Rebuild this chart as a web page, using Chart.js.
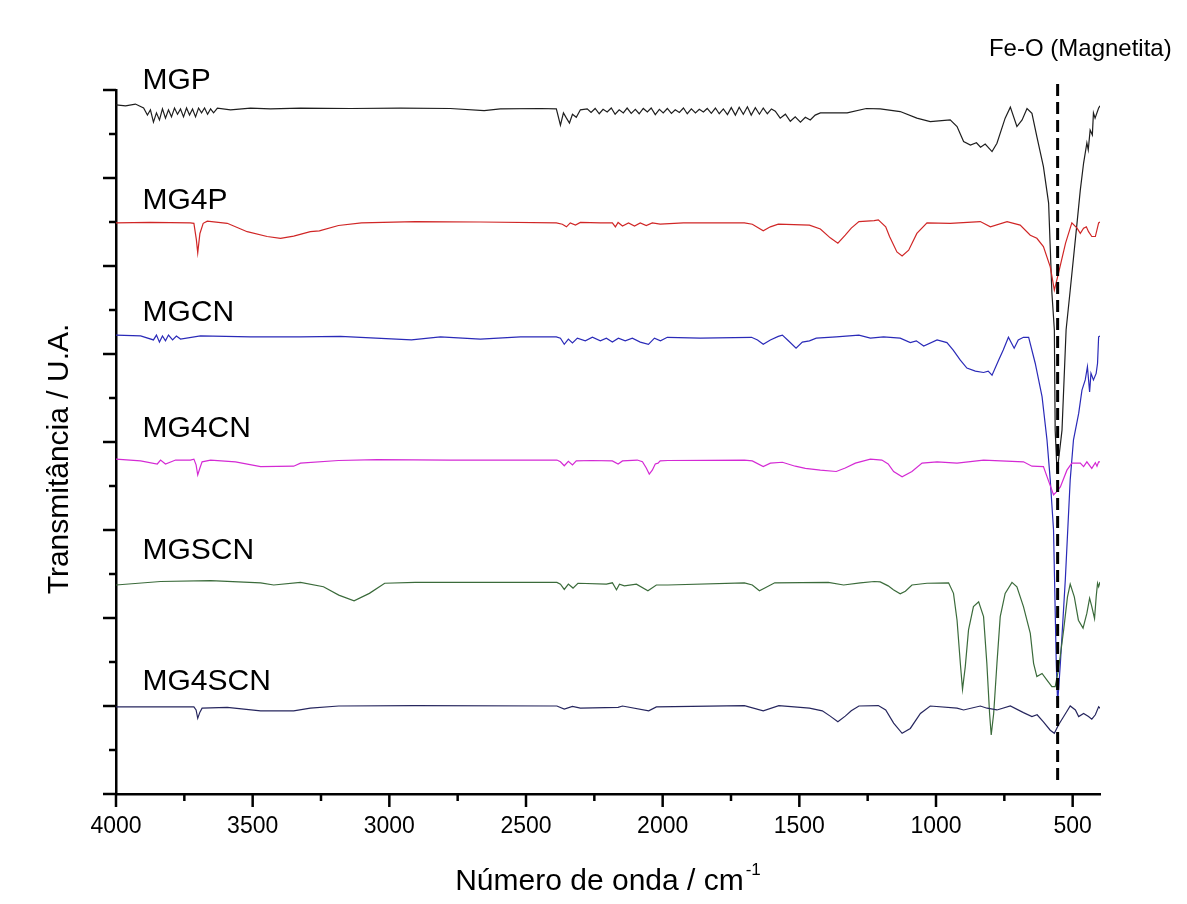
<!DOCTYPE html>
<html>
<head>
<meta charset="utf-8">
<script src="https://cdn.jsdelivr.net/npm/chart.js@4.4.1/dist/chart.umd.min.js"></script>
<style>
html,body{margin:0;padding:0;background:#fff;}
#wrap{width:1187px;height:904px;position:relative;}
</style>
</head>
<body>
<div id="wrap"><canvas id="c" width="1187" height="904"></canvas></div>
<script>
// ---------- data ----------
const xTickValues = [4000, 3500, 3000, 2500, 2000, 1500, 1000, 500];
const xMinorTicks = [3750, 3250, 2750, 2250, 1750, 1250, 750];
const yMajorTicks = [0, 20, 40, 60, 80, 100, 120, 140, 160];
const yMinorTicks = [10, 30, 50, 70, 90, 110, 130, 150];

const seriesNames  = ['MGP', 'MG4P', 'MGCN', 'MG4CN', 'MGSCN', 'MG4SCN'];
const seriesColors = ['#1e1e1e', '#d02626', '#2a2ab8', '#d42ad4', '#3b6b3b', '#26265e'];
const labelWavenumber = 3903;
const labelLevels = [160.2, 133.0, 107.5, 81.1, 53.4, 23.6];

const feoText = 'Fe-O (Magnetita)';
const feoWavenumber = 555;
const feoRange = [3.2, 162.7];
const feoTextPos = [472, 167.7];

// [wavenumber, transmittance (U.A.)]
const mgp = [[4000,156.6],[3965,156.4],[3929,156.8],[3899,155.9],[3885,154.3],[3874,155.5],[3863,152.7],[3852,154.8],[3841,153.2],[3830,155.7],[3819,153.6],[3808,155.5],[3797,153.9],[3786,155.9],[3775,154.5],[3764,155.7],[3753,153.9],[3742,155.9],[3731,154.3],[3720,155.7],[3709,153.9],[3698,155.9],[3687,154.8],[3676,155.9],[3665,154.5],[3654,155.7],[3643,154.8],[3629,155.9],[3581,155.5],[3508,155.9],[3435,155.7],[3325,155.9],[3142,155.8],[2959,155.9],[2777,155.8],[2653,155.3],[2594,155.7],[2447,155.8],[2389,155.7],[2374,152.0],[2363,154.8],[2352,153.6],[2341,152.5],[2330,154.5],[2316,153.8],[2301,155.5],[2276,155.7],[2262,154.9],[2247,155.8],[2232,154.6],[2218,155.6],[2203,155.0],[2188,155.9],[2174,154.5],[2159,155.5],[2144,154.8],[2130,155.9],[2115,154.7],[2100,155.6],[2086,154.6],[2071,155.8],[2056,155.0],[2042,155.9],[2027,154.4],[2012,155.6],[1998,154.8],[1983,155.8],[1968,154.7],[1954,155.5],[1939,154.9],[1924,155.9],[1910,154.6],[1895,155.7],[1880,154.8],[1866,155.6],[1851,155.0],[1837,155.8],[1822,154.7],[1807,155.9],[1793,154.6],[1778,155.7],[1763,154.4],[1749,156.0],[1734,154.3],[1720,156.1],[1705,154.5],[1690,156.2],[1676,154.3],[1661,156.0],[1646,154.5],[1632,155.9],[1617,154.6],[1602,155.7],[1588,155.2],[1570,153.6],[1551,154.5],[1533,152.9],[1515,153.9],[1496,152.7],[1478,153.8],[1460,153.2],[1442,154.3],[1423,154.8],[1387,154.8],[1325,154.8],[1255,155.8],[1204,155.7],[1131,155.1],[1070,153.6],[1021,152.8],[948,153.2],[923,151.7],[899,148.3],[874,147.5],[852,148.0],[837,147.0],[820,147.7],[795,146.0],[777,147.9],[747,153.6],[728,156.1],[704,151.7],[685,153.2],[667,155.8],[649,154.7],[631,149.4],[607,142.6],[588,134.3],[576,113.9],[567,105.5],[564,82.7],[557,73.0],[539,82.7],[524,105.5],[509,114.5],[484,129.8],[472,137.3],[460,143.4],[448,148.0],[443,146.4],[436,150.9],[428,149.8],[424,154.8],[418,153.6],[405,155.9],[400,156.4]];

const mg4p = [[4000,129.8],[3874,129.9],[3728,129.8],[3715,129.7],[3706,126.0],[3701,123.0],[3693,127.4],[3681,129.7],[3666,130.2],[3593,129.7],[3520,127.8],[3447,126.7],[3398,126.3],[3350,126.8],[3289,127.8],[3256,128.0],[3186,129.2],[3102,129.8],[2905,130.1],[2667,130.0],[2389,129.8],[2367,129.5],[2352,128.9],[2338,129.8],[2319,129.3],[2301,129.9],[2228,129.8],[2184,129.8],[2173,128.9],[2163,129.9],[2147,129.1],[2125,129.8],[2103,129.1],[2082,129.8],[2060,129.2],[2038,129.8],[2009,129.5],[1924,129.8],[1701,129.8],[1672,129.5],[1632,128.0],[1606,128.9],[1577,129.5],[1463,129.3],[1423,128.4],[1387,126.4],[1359,125.2],[1332,127.0],[1310,128.6],[1282,130.1],[1226,130.3],[1211,130.5],[1184,128.9],[1170,126.7],[1143,123.2],[1124,122.3],[1100,123.6],[1070,127.4],[1033,129.8],[948,129.7],[838,130.1],[801,128.9],[740,130.1],[692,129.3],[655,127.0],[631,126.3],[607,124.4],[582,119.8],[567,114.5],[552,118.3],[526,125.2],[503,129.8],[484,128.6],[472,127.4],[460,128.6],[450,128.9],[442,127.8],[430,126.7],[417,126.7],[405,129.8],[400,130.0]];

const mgcn = [[4000,104.3],[3910,104.1],[3863,103.2],[3852,104.3],[3841,102.7],[3830,104.1],[3819,103.0],[3808,104.3],[3793,103.2],[3779,104.1],[3764,103.4],[3691,104.1],[3508,103.9],[3325,103.9],[3179,104.0],[3142,103.9],[2919,103.2],[2813,103.9],[2667,103.4],[2520,103.9],[2389,103.9],[2374,103.6],[2360,102.2],[2345,103.4],[2330,102.5],[2312,103.6],[2283,103.0],[2257,103.8],[2228,103.0],[2206,103.6],[2184,102.7],[2162,103.6],[2137,103.0],[2111,103.6],[2082,102.7],[2052,102.2],[2030,103.6],[2008,103.0],[1983,103.8],[1862,103.6],[1675,103.8],[1653,103.2],[1632,102.2],[1606,103.2],[1577,104.0],[1562,104.3],[1540,103.0],[1512,101.3],[1489,102.7],[1463,103.0],[1438,103.6],[1365,103.9],[1282,104.3],[1240,103.6],[1192,103.9],[1131,103.6],[1094,102.6],[1072,103.0],[1045,101.8],[996,103.2],[960,102.6],[937,100.9],[911,98.6],[887,96.8],[856,96.1],[826,95.8],[809,96.1],[795,95.2],[771,98.6],[754,100.9],[735,103.8],[714,101.3],[699,103.2],[680,103.8],[661,103.8],[637,97.9],[612,90.3],[594,80.5],[582,71.4],[570,60.0],[560,29.7],[555,20.6],[545,29.7],[527,48.6],[509,71.4],[497,80.5],[478,86.5],[466,91.8],[454,94.1],[446,97.1],[438,91.4],[433,95.6],[424,94.1],[414,95.6],[409,97.9],[405,103.9],[400,104.1]];

const mg4cn = [[4000,76.1],[3910,75.7],[3849,75.0],[3837,75.9],[3819,75.0],[3782,75.9],[3728,75.9],[3715,76.1],[3707,74.8],[3701,72.5],[3693,74.1],[3685,75.5],[3654,75.9],[3563,75.5],[3471,74.4],[3350,74.5],[3325,75.2],[3186,75.8],[3045,76.0],[2777,75.9],[2387,75.9],[2374,75.5],[2360,74.6],[2345,75.6],[2330,74.8],[2316,75.7],[2262,75.8],[2184,75.7],[2163,75.0],[2147,75.7],[2093,75.9],[2074,75.5],[2060,74.1],[2049,72.7],[2038,73.6],[2027,75.0],[2017,75.2],[2009,75.7],[1981,75.8],[1701,75.9],[1672,75.7],[1632,74.4],[1606,75.2],[1562,75.4],[1515,74.5],[1478,74.0],[1423,73.6],[1365,73.3],[1332,74.1],[1295,75.2],[1240,76.1],[1198,75.9],[1175,75.0],[1155,73.3],[1124,72.1],[1088,73.3],[1051,75.2],[996,75.5],[923,75.2],[826,75.9],[680,75.5],[649,74.5],[607,74.4],[585,70.6],[570,68.0],[560,68.6],[545,69.8],[521,73.6],[503,75.2],[472,75.2],[460,74.4],[448,75.5],[430,74.0],[417,75.3],[411,74.5],[405,75.5],[400,75.5]];

const mgscn = [[4000,47.5],[3837,48.3],[3654,48.5],[3471,48.0],[3423,47.5],[3325,48.1],[3241,47.1],[3185,45.2],[3129,43.9],[3073,45.6],[3017,47.9],[2905,48.1],[2594,48.1],[2387,48.1],[2374,47.7],[2360,46.5],[2345,47.7],[2328,46.8],[2310,47.9],[2206,47.7],[2184,48.0],[2169,46.4],[2158,47.7],[2140,47.3],[2096,47.7],[2054,46.2],[2023,47.5],[1981,47.5],[1701,48.0],[1672,47.5],[1646,46.2],[1621,47.0],[1590,48.0],[1394,48.1],[1338,47.5],[1277,48.0],[1226,48.3],[1204,48.2],[1175,47.3],[1156,46.4],[1131,45.5],[1112,46.1],[1088,47.5],[1033,47.9],[954,48.0],[936,45.6],[923,39.5],[911,29.7],[903,23.8],[893,28.9],[881,37.3],[863,42.6],[844,43.7],[826,40.3],[814,29.7],[804,18.3],[798,13.4],[789,18.3],[777,29.7],[765,40.3],[747,45.6],[722,48.1],[704,47.1],[680,42.6],[655,36.5],[643,29.7],[631,26.7],[612,27.4],[594,25.9],[576,24.4],[564,24.4],[552,28.2],[533,37.3],[519,44.8],[509,47.7],[494,44.8],[479,39.5],[462,37.7],[448,41.1],[438,44.5],[430,42.6],[420,39.9],[414,44.8],[409,47.9],[405,47.1],[400,48.2]];

const mg4scn = [[4000,19.8],[3874,19.8],[3728,19.8],[3715,19.8],[3707,19.1],[3701,17.2],[3693,18.6],[3685,19.5],[3593,19.7],[3471,18.9],[3350,18.9],[3289,19.5],[3185,20.0],[2905,20.1],[2387,20.0],[2360,19.3],[2330,19.9],[2301,19.5],[2163,19.7],[2147,20.0],[2051,18.9],[2023,19.8],[1701,20.1],[1632,18.9],[1575,20.1],[1463,19.5],[1416,18.9],[1387,17.7],[1359,16.4],[1332,17.7],[1310,18.9],[1282,20.0],[1211,20.1],[1184,19.1],[1155,16.1],[1124,13.8],[1094,14.9],[1057,18.3],[1021,20.0],[923,19.5],[899,19.1],[838,20.0],[813,19.5],[777,19.1],[728,20.0],[680,18.5],[649,17.6],[630,18.0],[607,16.4],[582,14.5],[567,13.8],[552,15.7],[526,18.3],[509,20.0],[490,19.1],[478,17.6],[460,18.3],[442,17.6],[430,17.0],[417,18.0],[405,19.8],[400,19.5]];

const seriesData = [mgp, mg4p, mgcn, mg4cn, mgscn, mg4scn];

// ---------- chart ----------
const FONT = '"Liberation Sans", Arial, Helvetica, sans-serif';
Chart.defaults.font.family = FONT;

const datasets = seriesData.map((s, i) => ({
  label: seriesNames[i],
  data: s.map(p => ({x: p[0], y: p[1]})),
  borderColor: seriesColors[i],
  borderWidth: 1.2,
  pointRadius: 0,
  tension: 0,
  fill: false,
  order: 6 - i
}));
datasets.push({
  label: 'Fe-O',
  data: feoRange.map(v => ({x: feoWavenumber, y: v})),
  borderColor: '#000',
  borderWidth: 3,
  borderDash: [12, 6],
  pointRadius: 0,
  fill: false,
  clip: false,
  order: -1
});

const decor = {
  id: 'decor',
  afterDraw(chart) {
    const {ctx, chartArea: a, scales: {x, y}} = chart;
    ctx.save();
    ctx.strokeStyle = '#000';
    ctx.lineWidth = 2.5;
    ctx.lineCap = 'butt';
    const seg = (x1, y1, x2, y2) => { ctx.beginPath(); ctx.moveTo(x1, y1); ctx.lineTo(x2, y2); ctx.stroke(); };
    xTickValues.forEach(v => { const p = x.getPixelForValue(v); seg(p, a.bottom, p, a.bottom + 13); });
    xMinorTicks.forEach(v => { const p = x.getPixelForValue(v); seg(p, a.bottom, p, a.bottom + 7); });
    yMajorTicks.forEach(v => { const p = y.getPixelForValue(v); seg(a.left - 13, p, a.left, p); });
    yMinorTicks.forEach(v => { const p = y.getPixelForValue(v); seg(a.left - 7, p, a.left, p); });

    ctx.fillStyle = '#000';
    ctx.textBaseline = 'alphabetic';
    ctx.textAlign = 'left';
    ctx.font = '30px ' + FONT;
    seriesNames.forEach((n, i) => {
      ctx.fillText(n, x.getPixelForValue(labelWavenumber), y.getPixelForValue(labelLevels[i]));
    });

    ctx.font = '24px ' + FONT;
    ctx.textAlign = 'center';
    ctx.fillText(feoText, x.getPixelForValue(feoTextPos[0]), y.getPixelForValue(feoTextPos[1]));

    // x title with superscript
    const cx = (a.left + a.right) / 2;
    ctx.font = '30px ' + FONT;
    const main = 'Número de onda / cm';
    const wMain = ctx.measureText(main).width;
    ctx.font = '17px ' + FONT;
    const sup = '-1';
    const wSup = ctx.measureText(sup).width;
    const start = cx - (wMain + wSup + 2) / 2;
    const base = a.bottom + 96;
    ctx.textAlign = 'left';
    ctx.font = '30px ' + FONT;
    ctx.fillText(main, start, base);
    ctx.font = '17px ' + FONT;
    ctx.fillText(sup, start + wMain + 2, base - 15);

    // y title
    ctx.save();
    ctx.translate(68, (a.top + a.bottom) / 2 + 17);
    ctx.rotate(-Math.PI / 2);
    ctx.textAlign = 'center';
    ctx.font = '30px ' + FONT;
    ctx.fillText('Transmitância / U.A.', 0, 0);
    ctx.restore();
    ctx.restore();
  }
};

new Chart(document.getElementById('c').getContext('2d'), {
  type: 'line',
  data: {datasets},
  options: {
    responsive: false,
    animation: false,
    layout: {padding: {top: 90, right: 87, left: 0, bottom: 0}},
    plugins: {legend: {display: false}, tooltip: {enabled: false}},
    scales: {
      x: {
        type: 'linear', min: 400, max: 4000, reverse: true,
        grid: {display: false, drawTicks: false},
        border: {display: true, color: '#000', width: 2.5},
        afterBuildTicks: s => { s.ticks = xTickValues.map(v => ({value: v})); },
        afterFit: s => { s.height = 110; },
        ticks: {color: '#000', font: {size: 23, family: FONT}, padding: 19, maxRotation: 0, autoSkip: false,
                callback: v => String(v)}
      },
      y: {
        type: 'linear', min: 0, max: 160,
        grid: {display: false, drawTicks: false},
        border: {display: true, color: '#000', width: 2.5},
        ticks: {display: false},
        afterFit: s => { s.width = 116; }
      }
    }
  },
  plugins: [decor]
});
</script>
</body>
</html>
